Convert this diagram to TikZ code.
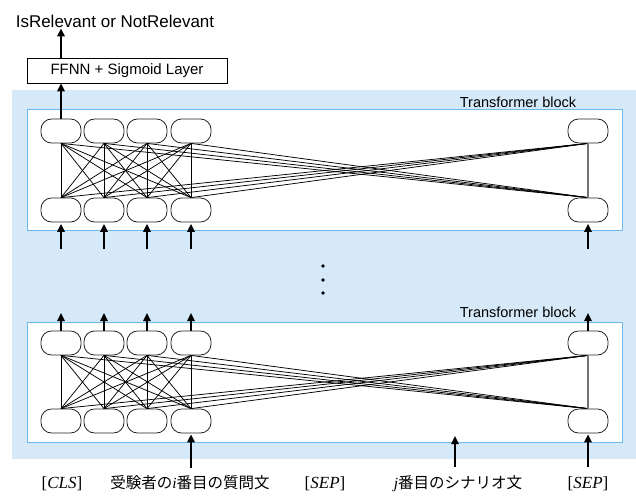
\documentclass[tikz,border=0pt]{standalone}
\usepackage{fontspec}
\setmainfont{Liberation Sans}
\newfontfamily\serifit{Liberation Serif}
\newfontfamily\jpfont{Noto Sans CJK JP}
\usetikzlibrary{arrows.meta}

\definecolor{panelblue}{RGB}{213,233,248}
\definecolor{frameblue}{RGB}{110,185,235}
\definecolor{linkgray}{RGB}{115,115,115}

\tikzset{
  tok/.style={draw=black!85, line width=0.8pt, rounded corners=10.5pt,
    minimum width=40pt, minimum height=24pt, inner sep=0pt, fill=white},
  link/.style={line width=0.75pt, black},
  flow/.style={line width=1.6pt, -{Triangle[length=8pt,width=7.5pt]}},
  layerbox/.style={draw=frameblue, fill=white, line width=0.8pt},
  caption/.style={font=\fontsize{14.5}{16}\selectfont, inner sep=0pt},
  toklabel/.style={inner sep=0pt, anchor=base, font=\fontsize{17}{19}\selectfont\serifit},
  jplabel/.style={inner sep=0pt, anchor=base, font=\fontsize{15.5}{18}\selectfont},
}

\begin{document}
\begin{tikzpicture}[x=1pt,y=-1pt]
\useasboundingbox (0,0) rectangle (636,495);

% background panel and the two transformer layers
\fill[panelblue] (12,90) rectangle (636,459);
\draw[layerbox] (27,109) rectangle (622,230);
\draw[layerbox] (27,322) rectangle (622,442);

% token nodes: u = upper layer, l = lower layer; t = top row, b = bottom row
\foreach \k/\x in {1/61,2/104,3/147,4/191,5/588} {
  \node[tok] (ut\k) at (\x,131) {};
  \node[tok] (ub\k) at (\x,210) {};
  \node[tok] (lt\k) at (\x,343) {};
  \node[tok] (lb\k) at (\x,421) {};
}

% full attention connections in each layer
\foreach \blk in {u,l} {
  \foreach \i in {1,...,4} {
    \foreach \j in {1,...,4}
      \draw[link] (\blk t\i.south) -- (\blk b\j.north);
    \draw[link] (\blk t\i.south) -- (\blk b5.north);
    \draw[link] (\blk b\i.north) -- (\blk t5.south);
  }
  \draw[linkgray, line width=1.1pt] (\blk t5.south) -- (\blk b5.north);
}

% arrows into the upper layer and out of the lower layer
\foreach \k/\x in {1/61,2/104,3/147,4/191,5/588} {
  \coordinate (uin\k) at (\x,249);
  \draw[flow, shorten >=1.5pt] (uin\k) -- (ub\k.south);
  \coordinate (lout\k) at (\x,313);
  \draw[flow] (lt\k.north) -- (lout\k);
}

% classification head
\node[draw, line width=0.8pt, minimum width=200pt, minimum height=25pt,
  inner sep=0pt, font=\fontsize{15}{17}\selectfont] (head) at (127,70.5)
  {FFNN + Sigmoid Layer};
\node[inner sep=0pt, font=\fontsize{17}{19}\selectfont] (verdict) at (115,21)
  {IsRelevant or NotRelevant};
\draw[flow] (ut1.north) -- (ut1.north |- head.south);
\draw[flow, shorten >=1pt] (ut1 |- head.north) -- (ut1 |- verdict.south);

% layer captions
\node[caption, anchor=base] (ucap) at (518,107) {Transformer block};
\node[caption, anchor=base] (lcap) at (518,317) {Transformer block};

% vertical ellipsis between the layers
\foreach \y in {266,280,293}
  \fill (323,\y) circle (1.9pt);

% input tokens
\node[toklabel] (cls) at (62,488) {[\textit{CLS}]};
\node[jplabel] (qtext) at (190,488)
  {{\jpfont 受験者の}{\serifit\itshape i}{\jpfont 番目の質問文}};
\node[toklabel] (sepa) at (325,488) {[\textit{SEP}]};
\node[jplabel] (stext) at (458,488)
  {{\serifit\itshape j}{\jpfont 番目のシナリオ文}};
\node[toklabel] (sepb) at (588,488) {[\textit{SEP}]};

% arrows from the inputs into the lower layer
\coordinate (qtail) at (191,468);
\draw[flow, shorten >=1pt] (qtail) -- (lb4.south);
\coordinate (stail) at (455,467);
\coordinate (shead) at (455,436);
\draw[flow] (stail) -- (shead);
\coordinate (septail) at (588,467);
\draw[flow, shorten >=1pt] (septail) -- (lb5.south);
\end{tikzpicture}
\end{document}
